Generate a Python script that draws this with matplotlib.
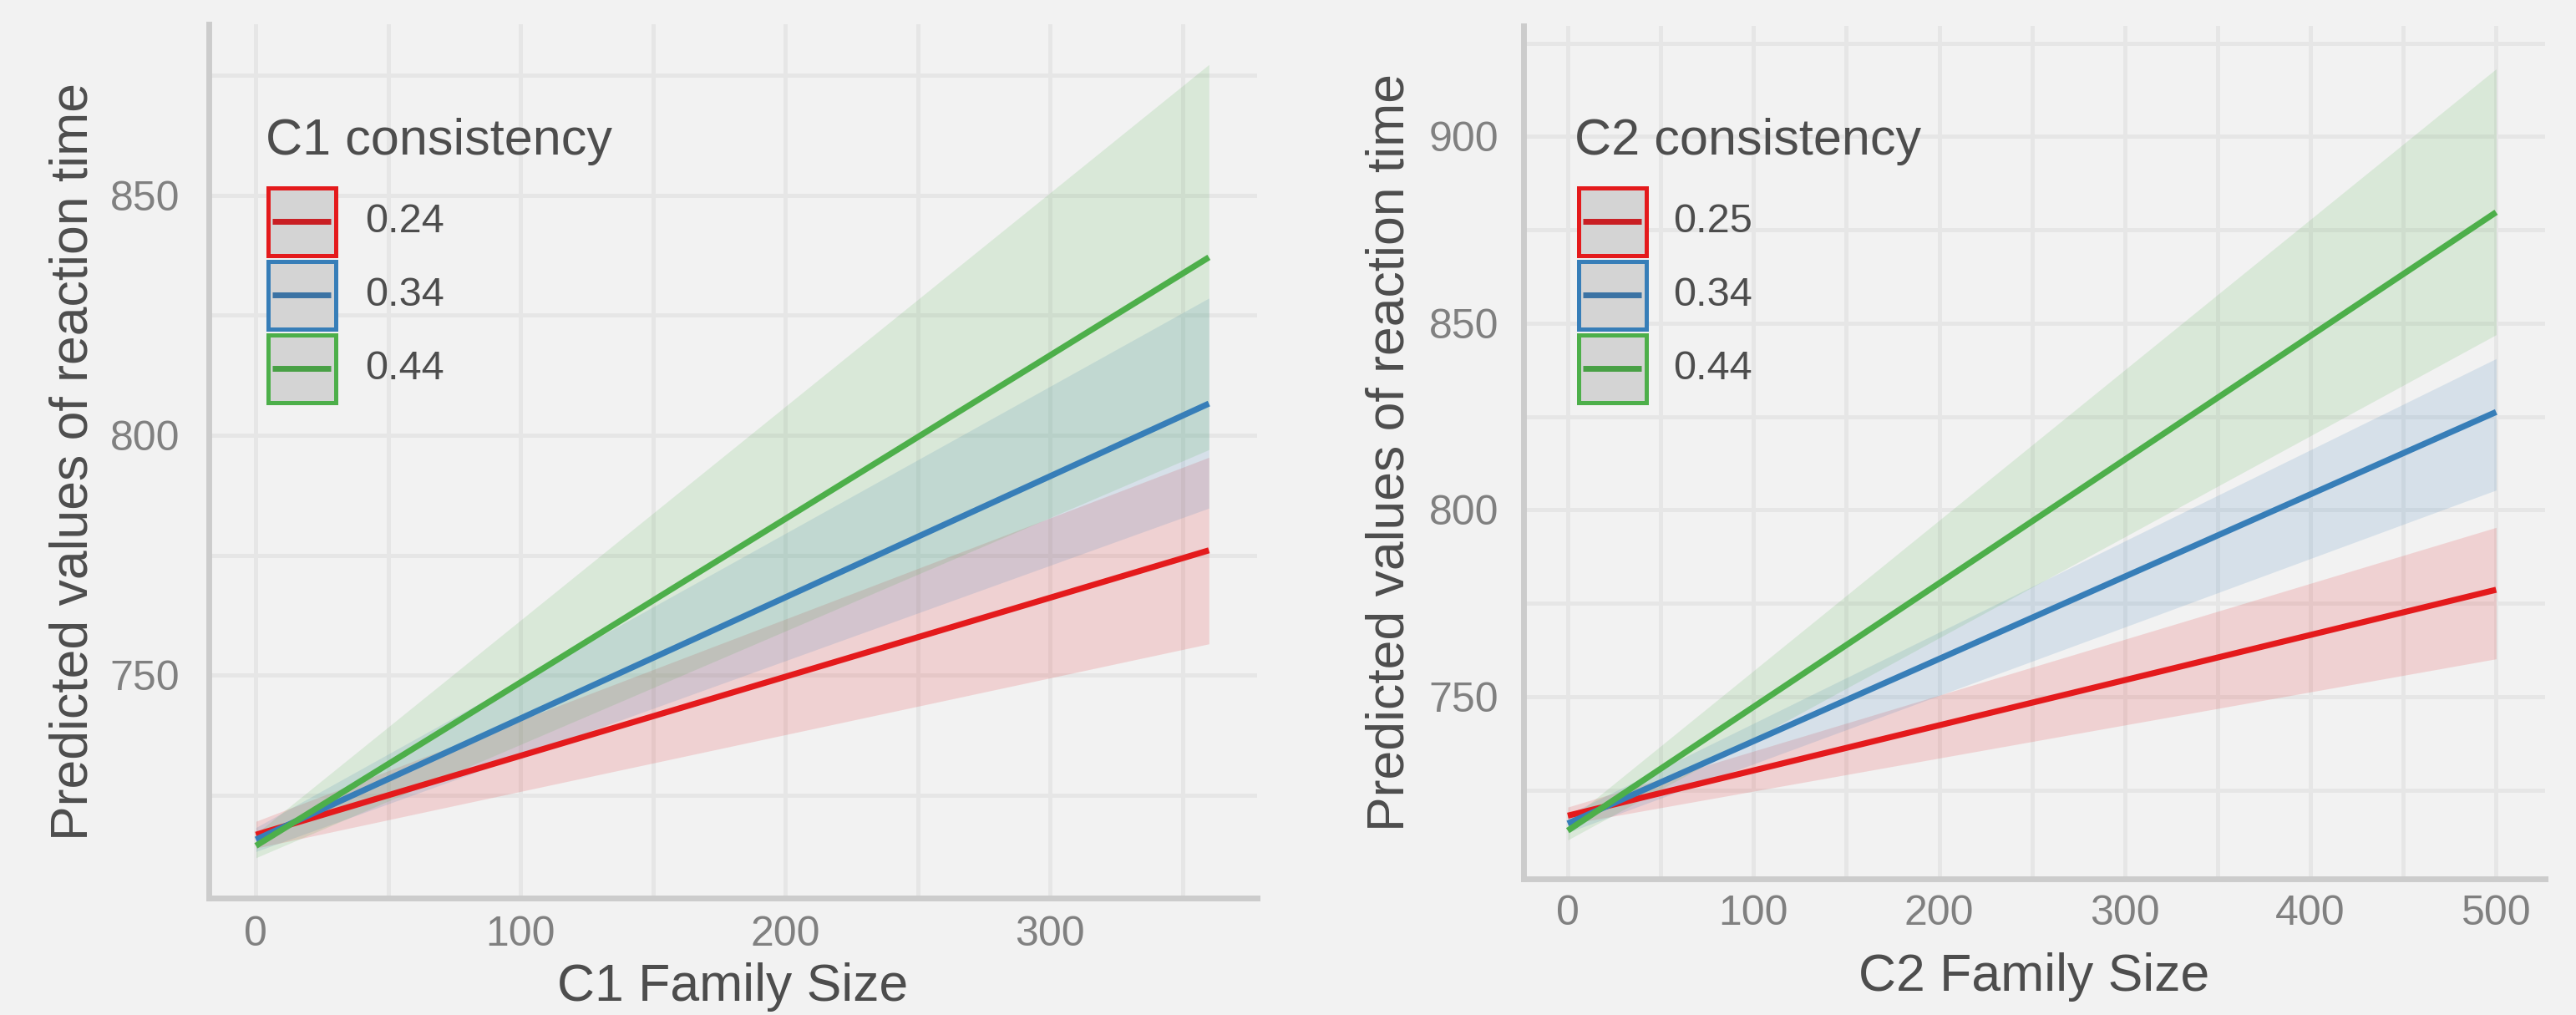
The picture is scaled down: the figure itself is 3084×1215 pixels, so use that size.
import matplotlib
matplotlib.use("Agg")
import matplotlib.pyplot as plt
from matplotlib.patches import Rectangle
from matplotlib.lines import Line2D
from matplotlib.ticker import MultipleLocator

plt.rcParams['font.family'] = ['Liberation Sans', 'DejaVu Sans']

# ---- data ----
levels_c1 = ['0.24', '0.34', '0.44']
levels_c2 = ['0.25', '0.34', '0.44']
colors = ['#E41A1C', '#377EB8', '#4DAF4A']
key_colors = ['#C91E23', '#3B73A4', '#48A045']

c1_size = [0, 360]
c1_fit_low = [716.7, 776.0]
c1_lo_low = [713.9, 756.5]
c1_hi_low = [719.5, 795.4]
c1_fit_mid = [715.7, 806.6]
c1_lo_mid = [713.2, 784.8]
c1_hi_mid = [718.2, 828.6]
c1_fit_high = [714.4, 837.1]
c1_lo_high = [711.9, 797.0]
c1_hi_high = [716.9, 877.3]

c2_size = [0, 500]
c2_fit_low = [718.1, 778.6]
c2_lo_low = [715.8, 760.1]
c2_hi_low = [720.4, 795.3]
c2_fit_mid = [716.0, 826.2]
c2_lo_mid = [713.6, 805.3]
c2_hi_mid = [718.4, 840.5]
c2_fit_high = [714.1, 879.7]
c2_lo_high = [711.6, 846.9]
c2_hi_high = [716.6, 918.1]

BG = '#F2F2F2'
W, H = 3084, 1215
fig = plt.figure(figsize=(W / 200, H / 200), dpi=200, facecolor=BG)


def px(x, y):
    # figure pixel (from top-left) -> figure fraction
    return x / W, 1 - y / H


def make_axes(left, top, right, bottom):
    x0, y1 = px(left, top)
    x1, y0 = px(right, bottom)
    ax = fig.add_axes([x0, y0, x1 - x0, y1 - y0], facecolor=BG)
    for s in ['top', 'right']:
        ax.spines[s].set_visible(False)
    for s in ['left', 'bottom']:
        ax.spines[s].set_color('#CCCCCC')
        ax.spines[s].set_linewidth(2.5)
    ax.tick_params(which='both', length=0, labelsize=18, labelcolor='#808080')
    ax.grid(True, which='both', color='#E6E6E6', linewidth=1.8)
    ax.set_axisbelow(True)
    return ax


def draw_panel(ax, x, fits, los, his):
    for lo, hi, c in zip(los, his, colors):
        ax.fill_between(x, lo, hi, color=c, alpha=0.15, linewidth=0)
    for f, c in zip(fits, colors):
        ax.plot(x, f, color=c, linewidth=2.6, solid_capstyle='butt')


def draw_legend(title, labels, tx, bx, lx):
    fig.text(*px(tx, 185), title, fontsize=22, color='#4D4D4D', ha='left', va='baseline')
    for i, (lab, c, kc) in enumerate(zip(labels, colors, key_colors)):
        top = 222 + i * 88
        x0, y0 = px(bx + 2.5, top + 86 - 2.5)
        x1, y1 = px(bx + 86 - 2.5, top + 2.5)
        fig.add_artist(Rectangle((x0, y0), x1 - x0, y1 - y0, transform=fig.transFigure,
                                 facecolor='#D4D4D4', edgecolor=c, linewidth=1.8))
        lx0, ly = px(bx + 8, top + 43)
        lx1, _ = px(bx + 78, top + 43)
        fig.add_artist(Line2D([lx0, lx1], [ly, ly], transform=fig.transFigure,
                              color=kc, linewidth=2.5, solid_capstyle='butt'))
        fig.text(*px(lx, top + 43), lab, fontsize=17.5, color='#4D4D4D', ha='left', va='center')


# ---- left panel ----
ax1 = make_axes(250, 29, 1505, 1075)
draw_panel(ax1, c1_size, [c1_fit_low, c1_fit_mid, c1_fit_high],
           [c1_lo_low, c1_lo_mid, c1_lo_high], [c1_hi_low, c1_hi_mid, c1_hi_high])
ax1.set_xlim(-17.8, 378.2)
ax1.set_ylim(703.5, 885.7)
ax1.xaxis.set_major_locator(MultipleLocator(100))
ax1.xaxis.set_minor_locator(MultipleLocator(50))
ax1.yaxis.set_major_locator(MultipleLocator(50))
ax1.yaxis.set_minor_locator(MultipleLocator(25))
ax1.tick_params(axis='y', pad=12.5)
ax1.tick_params(axis='x', pad=7.5)
ax1.set_xlabel('C1 Family Size', fontsize=22.5, color='#4D4D4D')
ax1.xaxis.set_label_coords(0.5, -0.118)
ax1.xaxis.label.set_va('baseline')
ax1.set_ylabel('Predicted values of reaction time', fontsize=22.5, color='#4D4D4D')
ax1.yaxis.set_label_coords(-0.129, 0.5)
ax1.yaxis.label.set_va('center')

# ---- right panel ----
ax2 = make_axes(1823.6, 31, 3046.6, 1051.5)
draw_panel(ax2, c2_size, [c2_fit_low, c2_fit_mid, c2_fit_high],
           [c2_lo_low, c2_lo_mid, c2_lo_high], [c2_hi_low, c2_hi_mid, c2_hi_high])
ax2.set_xlim(-24.0, 526.2)
ax2.set_ylim(701.3, 929.6)
ax2.xaxis.set_major_locator(MultipleLocator(100))
ax2.xaxis.set_minor_locator(MultipleLocator(50))
ax2.yaxis.set_major_locator(MultipleLocator(50))
ax2.yaxis.set_minor_locator(MultipleLocator(25))
ax2.tick_params(axis='y', pad=10.5)
ax2.tick_params(axis='x', pad=7)
ax2.set_xlabel('C2 Family Size', fontsize=22.5, color='#4D4D4D')
ax2.xaxis.set_label_coords(0.5, -0.132)
ax2.xaxis.label.set_va('baseline')
ax2.set_ylabel('Predicted values of reaction time', fontsize=22.5, color='#4D4D4D')
ax2.yaxis.set_label_coords(-0.1305, 0.5)
ax2.yaxis.label.set_va('center')

draw_legend('C1 consistency', levels_c1, 318, 318, 437)
draw_legend('C2 consistency', levels_c2, 1885, 1887, 2003)

fig.savefig('out.png', dpi=200, facecolor=BG)
